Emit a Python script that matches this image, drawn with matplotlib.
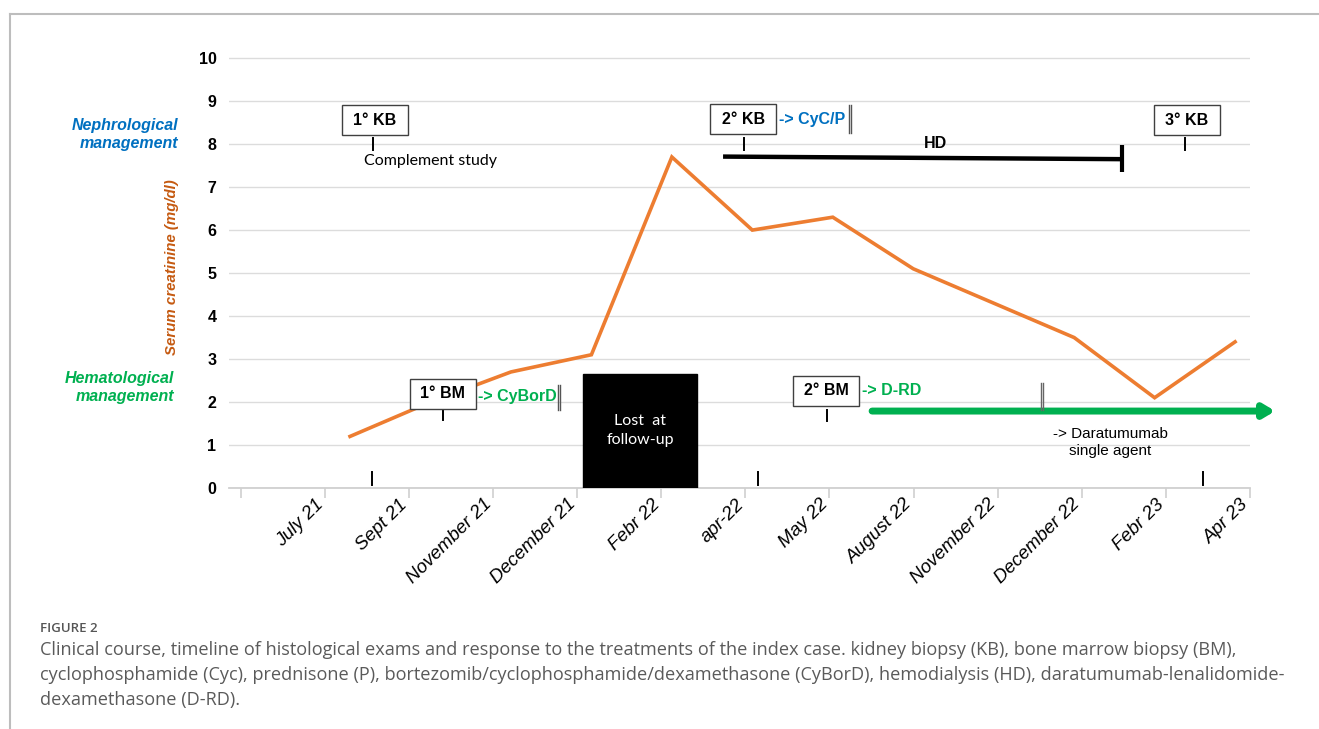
import matplotlib
matplotlib.use("Agg")
import matplotlib.pyplot as plt
from matplotlib.patches import Rectangle
from matplotlib.transforms import Affine2D
from matplotlib.lines import Line2D

# ---------------- data ----------------
months = ["July 21", "Sept 21", "November 21", "December 21", "Febr 22", "apr-22",
          "May 22", "August 22", "November 22", "December 22", "Febr 23", "Apr 23"]
creatinine = [1.2, 2.0, 2.7, 3.1, 7.7, 6.0, 6.3, 5.1, 4.3, 3.5, 2.1, 3.4]
y_ticks = list(range(0, 11))

caption_title = "FIGURE 2"
caption_lines = [
    "Clinical course, timeline of histological exams and response to the treatments of the index case. kidney biopsy (KB), bone marrow biopsy (BM),",
    "cyclophosphamide (Cyc), prednisone (P), bortezomib/cyclophosphamide/dexamethasone (CyBorD), hemodialysis (HD), daratumumab-lenalidomide-",
    "dexamethasone (D-RD).",
]

# ---------------- style ----------------
ORANGE = "#ED7D31"
BLUE = "#0070C0"
GREEN = "#00B050"
BROWN = "#C55A11"
GRID = "#dcdcdc"
SANS = ["Liberation Sans", "DejaVu Sans"]
CAL = ["Lato", "DejaVu Sans"]

W, H = 1319, 729
fig = plt.figure(figsize=(W / 100, H / 100), dpi=100)

def fx(px):
    return px / W

def fy(py):
    return 1 - py / H

ax = fig.add_axes([fx(229), fy(488), (1250 - 229) / W, (488 - 56) / H])
ax.set_xlim(-0.139, 12.0)
ax.set_ylim(0, 10.05)

for s in ["top", "right", "left"]:
    ax.spines[s].set_visible(False)
ax.spines["bottom"].set_color("#d0d0d0")
ax.spines["bottom"].set_linewidth(1.3)

ax.set_yticks(y_ticks)
ax.set_yticklabels([str(v) for v in y_ticks], fontsize=11.5, fontweight="bold", family=SANS)
ax.tick_params(axis="y", length=0, pad=9)
ax.yaxis.grid(True, color=GRID, lw=1.0)
ax.set_axisbelow(True)

# x axis: tick marks at category boundaries, labels near right boundary
ax.set_xticks(list(range(13)), minor=True)
ax.set_xticks([i + 0.95 for i in range(len(months))])
ax.set_xticklabels(months, rotation=45, ha="right", va="center", rotation_mode="anchor",
                   fontsize=13.5, style="italic", family=SANS)
ax.tick_params(axis="x", which="major", length=0, pad=10)
ax.tick_params(axis="x", which="minor", length=7, color="#d0d0d0", width=1.2, direction="out")

# serum creatinine line (indexed positions mapped onto the timeline)
line_tr = Affine2D().scale(0.9566, 1).translate(1.300, 0) + ax.transData
ax.plot(range(len(creatinine)), creatinine, color=ORANGE, lw=2.6, transform=line_tr,
        zorder=3, solid_joinstyle="miter", clip_on=False)

# ---------------- annotations ----------------
BW, BH = 0.785, 0.70

def box(cx, cy, label):
    ax.add_patch(Rectangle((cx - BW / 2, cy - BH / 2), BW, BH, facecolor="white",
                           edgecolor="#404040", lw=1.0, zorder=5, clip_on=False))
    ax.text(cx, cy, label, ha="center", va="center", fontsize=11.5, fontweight="bold",
            family=SANS, zorder=6)

def tick(x, y0, y1, color="black", lw=1.4):
    ax.plot([x, x], [y0, y1], color=color, lw=lw, zorder=4, clip_on=False)

def dbl(x, y0, y1, color="#555555"):
    for dx in (-0.012, 0.012):
        ax.plot([x + dx, x + dx], [y0, y1], color=color, lw=1.0, zorder=4, clip_on=False)

# nephrological
box(1.597, 8.56, "1° KB")
tick(1.572, 7.86, 8.14)
ax.text(1.466, 7.60, "Complement study", ha="left", va="center", fontsize=11.5, family=CAL)

box(5.975, 8.58, "2° KB")
tick(5.985, 7.86, 8.14)
ax.text(6.40, 8.58, "-> CyC/P", ha="left", va="center", fontsize=11.5, fontweight="bold",
        color=BLUE, family=SANS)
dbl(7.245, 8.26, 8.91)

ax.plot([5.735, 10.48], [7.71, 7.65], color="black", lw=3.2, zorder=4, solid_capstyle="butt")
ax.plot([10.48, 10.48], [7.35, 7.97], color="black", lw=3.0, zorder=4, solid_capstyle="butt")
ax.text(8.26, 8.02, "HD", ha="center", va="center", fontsize=11.5, fontweight="bold", family=SANS)

box(11.25, 8.56, "3° KB")
tick(11.23, 7.86, 8.14)

# hematological
box(2.405, 2.19, "1° BM")
tick(2.405, 1.58, 1.81)
ax.text(2.82, 2.14, "-> CyBorD", ha="left", va="center", fontsize=11.5, fontweight="bold",
        color=GREEN, family=SANS)
dbl(3.785, 1.81, 2.40)

ax.add_patch(Rectangle((4.07, 0), 1.36, 2.65, facecolor="black", edgecolor="black", zorder=5))
ax.text(4.75, 1.33, "Lost  at\nfollow-up", ha="center", va="center", color="white",
        fontsize=11.5, family=CAL, linespacing=1.45, zorder=6)

box(6.96, 2.26, "2° BM")
tick(6.97, 1.56, 1.81)
ax.text(7.39, 2.26, "-> D-RD", ha="left", va="center", fontsize=11.5, fontweight="bold",
        color=GREEN, family=SANS)

ax.annotate("", xy=(12.30, 1.79), xytext=(7.507, 1.79),
            arrowprops=dict(arrowstyle="-|>,head_length=0.5,head_width=0.3", lw=5.0,
                            color=GREEN, shrinkA=0, shrinkB=0, mutation_scale=13),
            annotation_clip=False, zorder=4)
dbl(9.53, 1.81, 2.44, color="#666666")
ax.text(10.34, 1.06, "-> Daratumumab\nsingle agent", ha="center", va="center", fontsize=11,
        family=SANS, linespacing=1.3, zorder=6)

for x in (1.56, 6.15, 11.44):
    tick(x, 0.07, 0.37)

# ---------------- side labels ----------------
fig.text(fx(172), fy(267), "Serum creatinine (mg/dl)", rotation=90, ha="center", va="center",
         color=BROWN, fontsize=10.8, style="italic", fontweight="bold", family=SANS)
fig.text(fx(178), fy(134.5), "Nephrological\nmanagement", ha="right", va="center",
         color=BLUE, fontsize=11.5, style="italic", fontweight="bold", family=SANS,
         linespacing=1.2)
fig.text(fx(174), fy(387.5), "Hematological\nmanagement", ha="right", va="center",
         color=GREEN, fontsize=11.5, style="italic", fontweight="bold", family=SANS,
         linespacing=1.2)

# ---------------- caption ----------------
fig.text(fx(40), fy(628), caption_title, ha="left", va="center", fontsize=9.5,
         color="#555555", family=["Open Sans", "DejaVu Sans"], fontweight="semibold")
for i, ln in enumerate(caption_lines):
    fig.text(fx(40), fy(650 + 25 * i), ln, ha="left", va="center", fontsize=13.1,
             color="#5a5a5a", family=["Open Sans", "DejaVu Sans"])

# ---------------- frame ----------------
fig.add_artist(Line2D([fx(10), 1], [fy(14), fy(14)], transform=fig.transFigure,
                      color="#bdbdbd", lw=1.5))
fig.add_artist(Line2D([fx(10), fx(10)], [fy(14), 0], transform=fig.transFigure,
                      color="#bdbdbd", lw=1.5))

fig.savefig("out.png", dpi=100)
